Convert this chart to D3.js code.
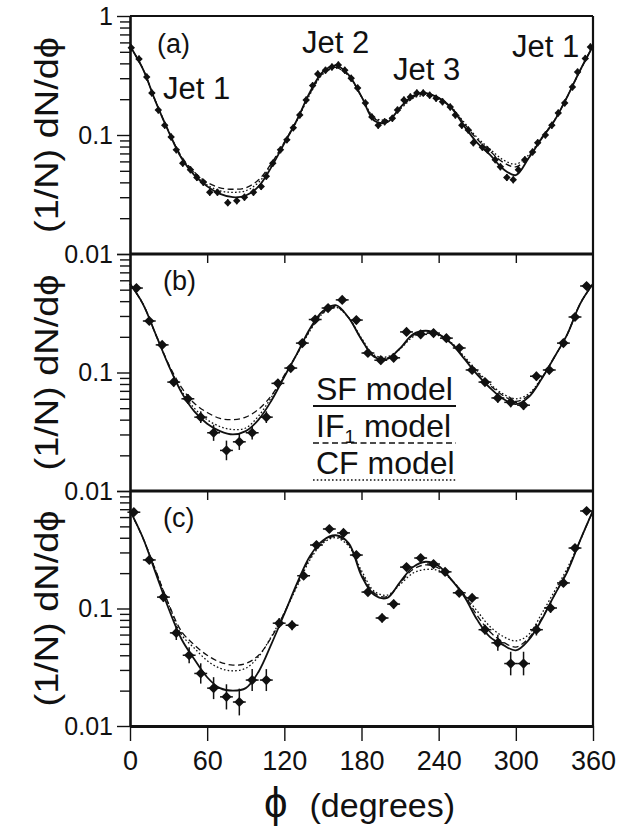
<!DOCTYPE html>
<html>
<head>
<meta charset="utf-8">
<script src="https://cdn.jsdelivr.net/npm/d3@7"></script>
<style>
  body { margin: 0; background: #fff; }
  svg text { font-family: "Liberation Sans", Arial, sans-serif; fill: #111; }
</style>
</head>
<body>
<div id="chart"></div>
<script>
// ---- data ----
const xTicks = [0, 60, 120, 180, 240, 300, 360];
const yTickVals = [0.01, 0.02, 0.03, 0.04, 0.05, 0.06, 0.07, 0.08, 0.09,
                   0.1, 0.2, 0.3, 0.4, 0.5, 0.6, 0.7, 0.8, 0.9, 1];
const yMajor = [0.01, 0.1, 1];

const phiA = [1, 7, 13, 17, 22, 27, 32, 36, 41, 47, 52, 57, 62, 68, 76, 83, 89, 96, 102, 106,
  111, 117, 122, 127, 132, 137, 142, 146, 152, 157, 162, 167, 172, 177, 183, 188, 193, 198, 204, 208,
  213, 218, 223, 228, 233, 238, 243, 249, 253, 258, 263, 267, 274, 278, 284, 288, 293, 298, 302, 307,
  313, 317, 323, 328, 333, 338, 344, 348, 354, 358];
const valA = [0.54, 0.435, 0.307, 0.225, 0.162, 0.121, 0.096, 0.075, 0.058, 0.051,
  0.044, 0.040, 0.033, 0.033, 0.027, 0.028, 0.030, 0.033, 0.037, 0.045,
  0.058, 0.075, 0.091, 0.115, 0.147, 0.197, 0.26, 0.325, 0.35, 0.373,
  0.388, 0.35, 0.30, 0.248, 0.186, 0.142, 0.121, 0.129, 0.138, 0.162,
  0.197, 0.209, 0.225, 0.225, 0.216, 0.204, 0.19, 0.172, 0.147, 0.121,
  0.110, 0.086, 0.079, 0.075, 0.062, 0.054, 0.044, 0.042, 0.051, 0.062,
  0.072, 0.086, 0.10, 0.121, 0.153, 0.186, 0.253, 0.338, 0.44, 0.55];
const errA = 0.07;

const phiB = [5, 15, 25, 34, 45, 55, 65, 75, 85, 95, 106, 115, 125, 134, 144, 154, 165, 176,
  185, 195, 205, 215, 226, 236, 246, 256, 266, 276, 286, 296, 306, 316, 326, 337, 346, 355];
const valB = [0.516, 0.272, 0.171, 0.083, 0.060, 0.042, 0.031, 0.022, 0.026, 0.031, 0.042, 0.081,
  0.109, 0.177, 0.28, 0.35, 0.41, 0.277, 0.146, 0.127, 0.133, 0.22, 0.21, 0.215, 0.195, 0.161,
  0.105, 0.083, 0.061, 0.056, 0.053, 0.093, 0.105, 0.177, 0.294, 0.537];
const errB = [0.08, 0.08, 0.08, 0.09, 0.1, 0.12, 0.17, 0.21, 0.17, 0.14, 0.12, 0.09,
  0.08, 0.08, 0.08, 0.08, 0.08, 0.08, 0.08, 0.08, 0.08, 0.08, 0.08, 0.08, 0.08, 0.08,
  0.08, 0.08, 0.1, 0.1, 0.1, 0.09, 0.09, 0.08, 0.08, 0.08];

const phiC = [3, 15, 26, 36, 46, 55, 65, 75, 85, 95, 106, 116, 126, 135, 145, 155, 166, 176,
  185, 196, 205, 215, 226, 236, 245, 256, 266, 276, 286, 296, 306, 316, 327, 337, 346, 355];
const valC = [0.66, 0.259, 0.125, 0.062, 0.040, 0.028, 0.021, 0.0177, 0.016, 0.0246, 0.0246, 0.075,
  0.072, 0.19, 0.347, 0.475, 0.44, 0.285, 0.138, 0.083, 0.109, 0.225, 0.269, 0.239, 0.205, 0.136,
  0.123, 0.066, 0.051, 0.034, 0.034, 0.066, 0.101, 0.165, 0.327, 0.676];
const errC = [0.07, 0.08, 0.1, 0.15, 0.17, 0.22, 0.24, 0.28, 0.3, 0.24, 0.24, 0.1,
  0.1, 0.08, 0.08, 0.08, 0.08, 0.08, 0.08, 0.09, 0.09, 0.08, 0.08, 0.08, 0.08, 0.08,
  0.08, 0.1, 0.17, 0.26, 0.26, 0.12, 0.1, 0.08, 0.08, 0.07];

// model curves, sampled every 10 degrees
const modelPhi = [0, 10, 20, 30, 40, 50, 60, 70, 80, 90, 100, 110, 120, 130, 140, 150, 160, 170, 180,
  190, 200, 210, 220, 230, 240, 250, 260, 270, 280, 290, 300, 310, 320, 330, 340, 350, 360];

const sfA = [0.56, 0.36, 0.19, 0.107, 0.064, 0.046, 0.037, 0.032, 0.030, 0.031, 0.037, 0.054, 0.085,
  0.135, 0.23, 0.34, 0.385, 0.32, 0.21, 0.132, 0.128, 0.17, 0.213, 0.225, 0.205, 0.168, 0.118, 0.086,
  0.068, 0.052, 0.046, 0.064, 0.093, 0.132, 0.21, 0.35, 0.56];
const ifA = [0.56, 0.36, 0.19, 0.108, 0.066, 0.049, 0.040, 0.036, 0.035, 0.036, 0.042, 0.058, 0.087,
  0.135, 0.225, 0.33, 0.37, 0.315, 0.21, 0.137, 0.132, 0.168, 0.208, 0.22, 0.205, 0.17, 0.124, 0.092,
  0.073, 0.059, 0.054, 0.066, 0.094, 0.133, 0.21, 0.35, 0.56];
const cfA = [0.56, 0.36, 0.19, 0.108, 0.065, 0.048, 0.038, 0.034, 0.033, 0.034, 0.040, 0.057, 0.086,
  0.133, 0.22, 0.325, 0.365, 0.315, 0.21, 0.14, 0.135, 0.165, 0.203, 0.215, 0.2, 0.17, 0.127, 0.095,
  0.076, 0.062, 0.057, 0.068, 0.095, 0.133, 0.21, 0.35, 0.56];

const sfB = [0.56, 0.38, 0.21, 0.115, 0.068, 0.047, 0.037, 0.032, 0.030, 0.032, 0.040, 0.058, 0.092,
  0.145, 0.235, 0.33, 0.37, 0.29, 0.19, 0.135, 0.13, 0.16, 0.21, 0.225, 0.21, 0.175, 0.13, 0.096,
  0.074, 0.06, 0.054, 0.062, 0.088, 0.135, 0.21, 0.38, 0.56];
const ifB = [0.56, 0.38, 0.21, 0.118, 0.075, 0.055, 0.046, 0.041, 0.040, 0.042, 0.049, 0.064, 0.095,
  0.145, 0.23, 0.32, 0.36, 0.29, 0.19, 0.137, 0.133, 0.16, 0.205, 0.22, 0.21, 0.177, 0.133, 0.1,
  0.078, 0.064, 0.057, 0.064, 0.089, 0.135, 0.21, 0.38, 0.56];
const cfB = [0.56, 0.38, 0.21, 0.116, 0.07, 0.05, 0.040, 0.035, 0.033, 0.034, 0.043, 0.062, 0.093,
  0.143, 0.225, 0.315, 0.355, 0.29, 0.195, 0.14, 0.136, 0.158, 0.2, 0.215, 0.205, 0.178, 0.136, 0.103,
  0.08, 0.066, 0.06, 0.066, 0.09, 0.135, 0.21, 0.38, 0.56];

const sfC = [0.68, 0.40, 0.20, 0.10, 0.055, 0.037, 0.026, 0.021, 0.020, 0.021, 0.029, 0.05, 0.09,
  0.165, 0.28, 0.38, 0.42, 0.36, 0.19, 0.13, 0.123, 0.168, 0.225, 0.25, 0.23, 0.175, 0.126, 0.08,
  0.057, 0.049, 0.044, 0.054, 0.08, 0.13, 0.205, 0.38, 0.68];
const ifC = [0.68, 0.40, 0.21, 0.11, 0.064, 0.049, 0.040, 0.035, 0.033, 0.034, 0.040, 0.057, 0.092,
  0.16, 0.27, 0.37, 0.41, 0.35, 0.2, 0.135, 0.126, 0.165, 0.215, 0.235, 0.22, 0.175, 0.13, 0.087,
  0.063, 0.052, 0.047, 0.056, 0.082, 0.13, 0.21, 0.38, 0.68];
const cfC = [0.68, 0.40, 0.21, 0.108, 0.06, 0.046, 0.036, 0.031, 0.0295, 0.031, 0.039, 0.058, 0.092,
  0.155, 0.26, 0.36, 0.40, 0.34, 0.21, 0.14, 0.13, 0.16, 0.2, 0.215, 0.21, 0.175, 0.13, 0.095,
  0.07, 0.058, 0.053, 0.06, 0.09, 0.14, 0.22, 0.38, 0.68];

// y tick labels as printed on the figure (values -> text)
const yLabelsA = [[1, "1"], [0.1, "0.1"]];
const yLabelsB = [[1, "0.01"], [0.1, "0.1"]];
const yLabelsC = [[1, "0.01"], [0.1, "0.1"], [0.01, "0.01"]];

const jetLabels = [
  { text: "Jet 1", x: 163, y: 99 },
  { text: "Jet 2", x: 302, y: 53 },
  { text: "Jet 3", x: 393, y: 80 },
  { text: "Jet 1", x: 512, y: 57 }
];

// ---- layout ----
const W = 626, H = 827;
const left = 130, right = 593;

const panels = [
  { tag: "(a)", top: 16, bottom: 254, phi: phiA, val: valA, err: phiA.map(() => errA),
    sf: sfA, ifm: ifA, cf: cfA, labels: yLabelsA, mark: 28, hw: 2, topTicks: false },
  { tag: "(b)", top: 254, bottom: 491, phi: phiB, val: valB, err: errB,
    sf: sfB, ifm: ifB, cf: cfB, labels: yLabelsB, mark: 52, hw: 5, topTicks: true },
  { tag: "(c)", top: 491, bottom: 726, phi: phiC, val: valC, err: errC,
    sf: sfC, ifm: ifC, cf: cfC, labels: yLabelsC, mark: 52, hw: 5, topTicks: true }
];

const svg = d3.select("#chart").append("svg")
  .attr("width", W).attr("height", H);

const x = d3.scaleLinear().domain([0, 360]).range([left, right]);

const styles = [
  { key: "sf", dash: null, width: 1.8 },
  { key: "ifm", dash: "6,3.5", width: 1.3 },
  { key: "cf", dash: "1.6,2.2", width: 1.3 }
];

panels.forEach((p, pi) => {
  const y = d3.scaleLog().domain([0.01, 1]).range([p.bottom, p.top]);
  const g = svg.append("g");

  // model curves
  const line = d3.line()
    .x(d => x(d[0]))
    .y(d => y(d[1]))
    .curve(d3.curveCatmullRom.alpha(0.5));

  styles.forEach(s => {
    const pts = modelPhi.map((f, i) => [f, p[s.key][i]]);
    g.append("path")
      .attr("d", line(pts))
      .attr("fill", "none")
      .attr("stroke", "#111")
      .attr("stroke-width", s.width)
      .attr("stroke-dasharray", s.dash);
  });

  // data points with error bars
  const pts = p.phi.map((f, i) => ({ f, v: p.val[i], e: p.err[i] }));
  const pg = g.append("g");
  pg.selectAll("line.v").data(pts).enter().append("line")
    .attr("x1", d => x(d.f)).attr("x2", d => x(d.f))
    .attr("y1", d => y(d.v * (1 + d.e))).attr("y2", d => y(d.v / (1 + d.e)))
    .attr("stroke", "#111").attr("stroke-width", 1.5);
  pg.selectAll("line.h").data(pts).enter().append("line")
    .attr("x1", d => x(d.f - p.hw)).attr("x2", d => x(d.f + p.hw))
    .attr("y1", d => y(d.v)).attr("y2", d => y(d.v))
    .attr("stroke", "#111").attr("stroke-width", 1.5);
  pg.selectAll("path.m").data(pts).enter().append("path")
    .attr("d", d3.symbol(d3.symbolSquare, p.mark))
    .attr("transform", d => `translate(${x(d.f)},${y(d.v)}) rotate(45)`)
    .attr("fill", "#111");

  // left axis with log ticks
  const ax = g.append("g")
    .attr("transform", `translate(${left},0)`)
    .call(d3.axisLeft(y).tickValues(yTickVals).tickSize(10).tickSizeOuter(0).tickFormat(""));
  ax.select(".domain").attr("stroke-width", 2.6).attr("stroke", "#111");
  ax.selectAll(".tick line")
    .attr("stroke", "#111")
    .attr("stroke-width", 1.4)
    .attr("x2", d => yMajor.includes(d) ? -13 : -10);

  p.labels.forEach(([v, t]) => {
    g.append("text")
      .attr("x", left - 17)
      .attr("y", y(v))
      .attr("dy", "0.35em")
      .attr("text-anchor", "end")
      .style("font-size", "25px")
      .text(t);
  });

  // top ticks pointing into the panel
  if (p.topTicks) {
    const tx = g.append("g")
      .attr("transform", `translate(0,${p.top})`)
      .call(d3.axisBottom(x).tickValues(xTicks.slice(1, -1)).tickSize(9).tickSizeOuter(0).tickFormat(""));
    tx.select(".domain").remove();
    tx.selectAll(".tick line").attr("stroke", "#111").attr("stroke-width", 1.4);
  }

  // frame: top and right
  g.append("line")
    .attr("x1", left).attr("x2", right).attr("y1", p.top).attr("y2", p.top)
    .attr("stroke", "#111").attr("stroke-width", pi === 0 ? 2.2 : 2.8);
  g.append("line")
    .attr("x1", right).attr("x2", right).attr("y1", p.top).attr("y2", p.bottom)
    .attr("stroke", "#111").attr("stroke-width", 2.2);

  // panel tag
  g.append("text")
    .attr("x", pi === 0 ? 157 : 163)
    .attr("y", p.top + (pi === 0 ? 37 : 36))
    .style("font-size", "27px")
    .text(p.tag);

  // y axis title
  g.append("text")
    .attr("transform", `translate(58,${(p.top + p.bottom) / 2}) rotate(-90)`)
    .attr("text-anchor", "middle")
    .style("font-size", "33px")
    .attr("textLength", 196)
    .attr("lengthAdjust", "spacingAndGlyphs")
    .text("(1/N)  dN/dϕ");
});

// bottom x axis
const xb = svg.append("g")
  .attr("transform", `translate(0,${panels[2].bottom})`)
  .call(d3.axisBottom(x).tickValues(xTicks).tickSize(15).tickSizeOuter(0).tickPadding(10).tickFormat(d3.format("d")));
xb.select(".domain").attr("stroke", "#111").attr("stroke-width", 3);
xb.selectAll(".tick line").attr("stroke", "#111").attr("stroke-width", 1.4);
xb.selectAll(".tick text")
  .style("font-size", "27px")
  .style("font-family", "'Liberation Sans', Arial, sans-serif")
  .attr("fill", "#111");

// x axis title
const xt = svg.append("text")
  .attr("x", 264)
  .attr("y", 817)
  .style("font-size", "34px");
xt.append("tspan").style("font-size", "42px").text("ϕ");
xt.append("tspan").attr("dx", 22).text("(degrees)");

// jet annotations
svg.selectAll("text.jet").data(jetLabels).enter().append("text")
  .attr("class", "jet")
  .attr("x", d => d.x).attr("y", d => d.y)
  .style("font-size", "31px")
  .text(d => d.text);

// legend inside panel (b)
const legend = [
  { name: "SF", sub: "", y: 400, dash: null, width: 1.8 },
  { name: "IF", sub: "1", y: 437, dash: "6,3.5", width: 1.3 },
  { name: "CF", sub: "", y: 474, dash: "1.6,2.2", width: 1.3 }
];
const lg = svg.append("g");
legend.forEach(l => {
  const t = lg.append("text").attr("x", 316).attr("y", l.y).style("font-size", "32px");
  t.append("tspan").text(l.name);
  if (l.sub) {
    t.append("tspan").attr("dy", 6).style("font-size", "19px").text(l.sub);
    t.append("tspan").attr("dy", -6).text(" model");
  } else {
    t.append("tspan").text(" model");
  }
  lg.append("line")
    .attr("x1", 313).attr("x2", 456)
    .attr("y1", l.y + 6).attr("y2", l.y + 6)
    .attr("stroke", "#111")
    .attr("stroke-width", l.width)
    .attr("stroke-dasharray", l.dash);
});
</script>
</body>
</html>
